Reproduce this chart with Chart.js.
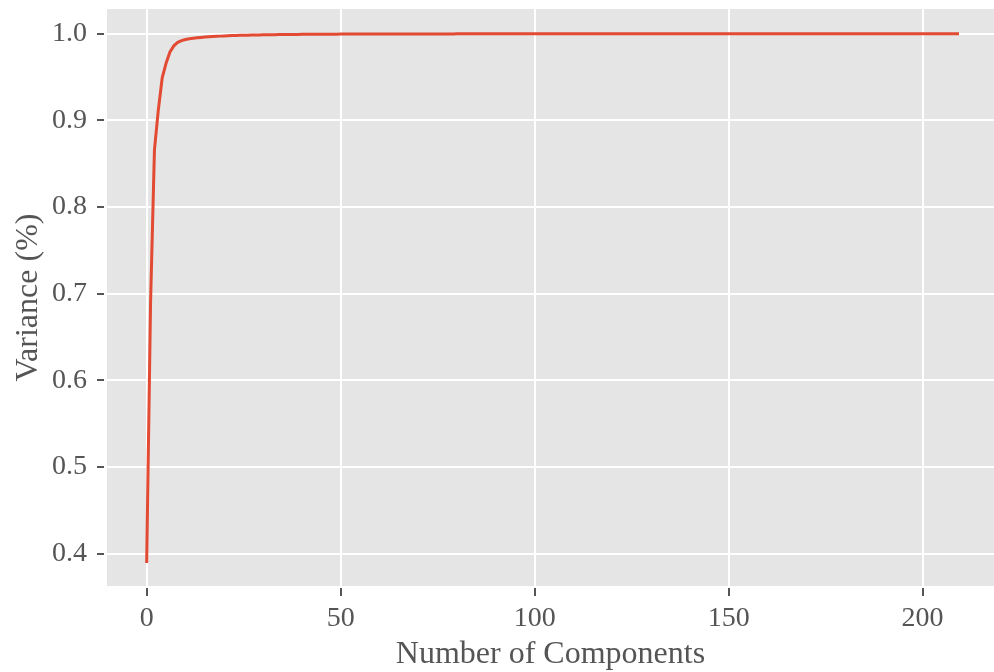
<!DOCTYPE html>
<html>
<head>
<meta charset="utf-8">
<script src="https://cdn.jsdelivr.net/npm/chart.js@4.4.0/dist/chart.umd.min.js"></script>
<style>
  body { margin: 0; background: #ffffff; }
  #wrap { width: 994px; height: 672px; }
</style>
</head>
<body>
<div id="wrap"><canvas id="varianceChart" width="994" height="672"></canvas></div>
<script>
const xTicks = [0, 50, 100, 150, 200];
const yTicks = [0.4, 0.5, 0.6, 0.7, 0.8, 0.9, 1.0];

// cumulative explained variance, one value per component (0..209)
const cumulativeVariance = [
  0.391, 0.690, 0.866, 0.912, 0.949, 0.966, 0.979, 0.986, 0.990, 0.9920,
  0.9933, 0.9942, 0.9948, 0.9953, 0.9957, 0.9961, 0.9964, 0.9967, 0.9970, 0.9972,
  0.9974, 0.9976, 0.9978, 0.9979, 0.9981, 0.9982, 0.9983, 0.9984, 0.9985, 0.9986,
  0.9987, 0.9988, 0.9988, 0.9989, 0.9990, 0.9990, 0.9991, 0.9991, 0.9992, 0.9992,
  0.9993, 0.9993, 0.9993, 0.9994, 0.9994, 0.9994, 0.9995, 0.9995, 0.9995, 0.9995,
  0.9996, 0.9996, 0.9996, 0.9996, 0.9996, 0.9996, 0.9996, 0.9996, 0.9996, 0.9996,
  0.9996, 0.9996, 0.9997, 0.9997, 0.9997, 0.9997, 0.9997, 0.9997, 0.9997, 0.9997,
  0.9997, 0.9997, 0.9997, 0.9997, 0.9997, 0.9997, 0.9997, 0.9997, 0.9997, 0.9997,
  0.9998, 0.9998, 0.9998, 0.9998, 0.9998, 0.9998, 0.9998, 0.9998, 0.9998, 0.9998,
  0.9998, 0.9998, 0.9998, 0.9998, 0.9998, 0.9998, 0.9998, 0.9998, 0.9998, 0.9998,
  0.9998, 0.9998, 0.9998, 0.9998, 0.9998, 0.9999, 0.9999, 0.9999, 0.9999, 0.9999,
  0.9999, 0.9999, 0.9999, 0.9999, 0.9999, 0.9999, 0.9999, 0.9999, 0.9999, 0.9999,
  0.9999, 0.9999, 0.9999, 0.9999, 0.9999, 0.9999, 0.9999, 0.9999, 0.9999, 0.9999,
  0.9999, 0.9999, 0.9999, 0.9999, 0.9999, 0.9999, 0.9999, 0.9999, 0.9999, 0.9999,
  0.9999, 0.9999, 0.9999, 0.9999, 0.9999, 0.9999, 0.9999, 0.9999, 0.9999, 0.9999,
  1.0, 1.0, 1.0, 1.0, 1.0, 1.0, 1.0, 1.0, 1.0, 1.0,
  1.0, 1.0, 1.0, 1.0, 1.0, 1.0, 1.0, 1.0, 1.0, 1.0,
  1.0, 1.0, 1.0, 1.0, 1.0, 1.0, 1.0, 1.0, 1.0, 1.0,
  1.0, 1.0, 1.0, 1.0, 1.0, 1.0, 1.0, 1.0, 1.0, 1.0,
  1.0, 1.0, 1.0, 1.0, 1.0, 1.0, 1.0, 1.0, 1.0, 1.0,
  1.0, 1.0, 1.0, 1.0, 1.0, 1.0, 1.0, 1.0, 1.0, 1.0,
];

const labelColor = "#555555";
const serif = "'Liberation Serif', 'DejaVu Serif', serif";

// grey ggplot-style panel behind the grid
const panelBackground = {
  id: "panelBackground",
  beforeDraw(chart) {
    const { ctx, chartArea } = chart;
    ctx.save();
    ctx.fillStyle = "#e5e5e5";
    ctx.fillRect(chartArea.left, chartArea.top, chartArea.right - chartArea.left, chartArea.bottom - chartArea.top);
    ctx.restore();
  },
};

const ctx = document.getElementById("varianceChart").getContext("2d");
new Chart(ctx, {
  type: "line",
  data: {
    datasets: [
      {
        label: "Variance",
        data: cumulativeVariance.map((v, i) => ({ x: i, y: v })),
        borderColor: "#e24a33",
        borderWidth: 3,
        borderCapStyle: "square",
        pointRadius: 0,
        tension: 0,
        fill: false,
      },
    ],
  },
  options: {
    responsive: false,
    animation: false,
    layout: { padding: { top: 9, right: 0, bottom: 0, left: 0 } },
    plugins: {
      legend: { display: false },
      tooltip: { enabled: false },
    },
    scales: {
      x: {
        type: "linear",
        min: -10.23,
        max: 218.4,
        afterBuildTicks: (axis) => {
          axis.ticks = xTicks.map((v) => ({ value: v }));
        },
        afterFit: (axis) => {
          axis.height = 86;
          axis.paddingLeft = 0;
          axis.paddingRight = 0;
        },
        border: { display: false },
        grid: {
          color: "#ffffff",
          lineWidth: 2,
          tickLength: 10,
          tickColor: labelColor,
          tickWidth: 2,
          tickBorderDash: [8, 2],
          tickBorderDashOffset: 8,
        },
        ticks: {
          color: labelColor,
          font: { family: serif, size: 28 },
          padding: 6,
          maxRotation: 0,
          callback: (value) => String(value),
        },
        title: {
          display: true,
          text: "Number of Components",
          color: labelColor,
          font: { family: serif, size: 32 },
          padding: { top: 0, bottom: -2 },
        },
      },
      y: {
        min: 0.3627,
        max: 1.0285,
        afterBuildTicks: (axis) => {
          axis.ticks = yTicks.map((v) => ({ value: v }));
        },
        afterFit: (axis) => {
          axis.width = 107;
          axis.paddingTop = 0;
          axis.paddingBottom = 0;
        },
        border: { display: false },
        grid: {
          color: "#ffffff",
          lineWidth: 2,
          tickLength: 10,
          tickColor: labelColor,
          tickWidth: 2,
          tickBorderDash: [7, 3],
        },
        ticks: {
          color: labelColor,
          font: { family: serif, size: 28 },
          padding: 10,
          callback: (value) => value.toFixed(1),
        },
        title: {
          display: true,
          text: "Variance (%)",
          color: labelColor,
          font: { family: serif, size: 32 },
          padding: { top: 9, bottom: 0 },
        },
      },
    },
  },
  plugins: [panelBackground],
});
</script>
</body>
</html>
